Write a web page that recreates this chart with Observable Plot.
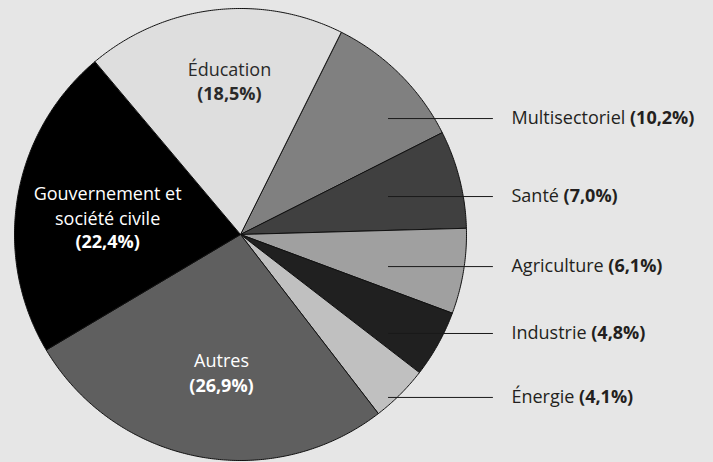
<!DOCTYPE html>
<html>
<head>
<meta charset="utf-8">
<script src="https://cdn.jsdelivr.net/npm/d3@7"></script>
<script src="https://cdn.jsdelivr.net/npm/@observablehq/plot@0.6"></script>
<style>
  html, body { margin: 0; padding: 0; background: #e6e6e6; }
  svg { display: block; background: #e6e6e6; }
</style>
</head>
<body>
<div id="chart"></div>
<script>
// ---- data ----
const names = ["Multisectoriel", "Santé", "Agriculture", "Industrie", "Énergie", "Autres", "Gouvernement et\nsociété civile", "Éducation"];
const values = [10.2, 7.0, 6.1, 4.8, 4.1, 26.9, 22.4, 18.5];
const fills = ["#808080", "#404040", "#a0a0a0", "#202020", "#c0c0c0", "#5f5f5f", "#000000", "#dedede"];

// ---- layout (label anchors in pie-radius units) ----
const startAngleDeg = 26.5;
const calloutNames = ["Multisectoriel", "Santé", "Agriculture", "Industrie", "Énergie"];
const calloutY = [0.513, 0.168, -0.142, -0.438, -0.721];
const calloutX1 = 0.655, calloutX2 = 1.119, calloutTextX = 1.199;
const insideNames = ["Éducation", "Gouvernement et\nsociété civile", "Autres"];
const insideX = [-0.049, -0.588, -0.084];
const insideNameY = [0.737, 0.131, -0.553];
const insidePctY = [0.622, -0.035, -0.670];
const insideColor = ["#2a2a2a", "#ffffff", "#ffffff"];

const fmt = v => "(" + v.toFixed(1).replace(".", ",") + "%)";
const valueOf = n => values[names.indexOf(n)];

// sectors -> polygons
const total = d3.sum(values);
const rows = [];
let acc = startAngleDeg * Math.PI / 180;
names.forEach((n, i) => {
  const a0 = acc, a1 = acc + values[i] / total * 2 * Math.PI;
  acc = a1;
  rows.push({name: n, fill: fills[i], x: 0, y: 0});
  const steps = Math.max(2, Math.ceil((a1 - a0) / (Math.PI / 360)));
  for (let k = 0; k <= steps; k++) {
    const a = a0 + (a1 - a0) * k / steps;
    rows.push({name: n, fill: fills[i], x: Math.sin(a), y: Math.cos(a)});
  }
  rows.push({name: n, fill: fills[i], x: 0, y: 0});
});

const callouts = calloutNames.map((n, i) => ({name: n, y: calloutY[i], pct: fmt(valueOf(n))}));
const insides = insideNames.map((n, i) => ({name: n, x: insideX[i], yn: insideNameY[i], yp: insidePctY[i], color: insideColor[i], pct: fmt(valueOf(n))}));

const font = "'Open Sans', 'Noto Sans', sans-serif";
const fs = 18;

const svg = Plot.plot({
  width: 713,
  height: 462,
  margin: 0,
  style: {background: "#e6e6e6", fontFamily: font},
  x: {domain: [-1, 1], range: [14, 466], axis: null},
  y: {domain: [-1, 1], range: [460, 8], axis: null},
  marks: [
    Plot.line(rows, {x: "x", y: "y", z: "name", fill: "fill", stroke: "#111", strokeWidth: 1, strokeLinejoin: "round", curve: "linear"}),
    Plot.ruleY(callouts, {y: "y", x1: calloutX1, x2: calloutX2, stroke: "#1a1a1a", strokeWidth: 1}),
    Plot.text(callouts, {x: calloutTextX, y: "y", text: "name", textAnchor: "start", fontSize: fs, fill: "#231f20"}),
    Plot.text(insides, {x: "x", y: "yn", text: "name", fill: "color", fontSize: fs, lineHeight: 1.39}),
    Plot.text(insides, {x: "x", y: "yp", text: "pct", fill: "color", fontSize: fs, fontWeight: "bold"})
  ]
});

// append bold percentage to the callout labels
d3.select(svg).selectAll("text").each(function() {
  const c = callouts.find(d => d.name === this.textContent);
  const g = this.closest("g");
  const anchor = (this.getAttribute("text-anchor") || (g && g.getAttribute("text-anchor")));
  if (c && anchor === "start") {
    d3.select(this).append("tspan").attr("font-weight", "bold").text("\u00a0" + c.pct);
  }
});

document.getElementById("chart").appendChild(svg);
</script>
</body>
</html>
